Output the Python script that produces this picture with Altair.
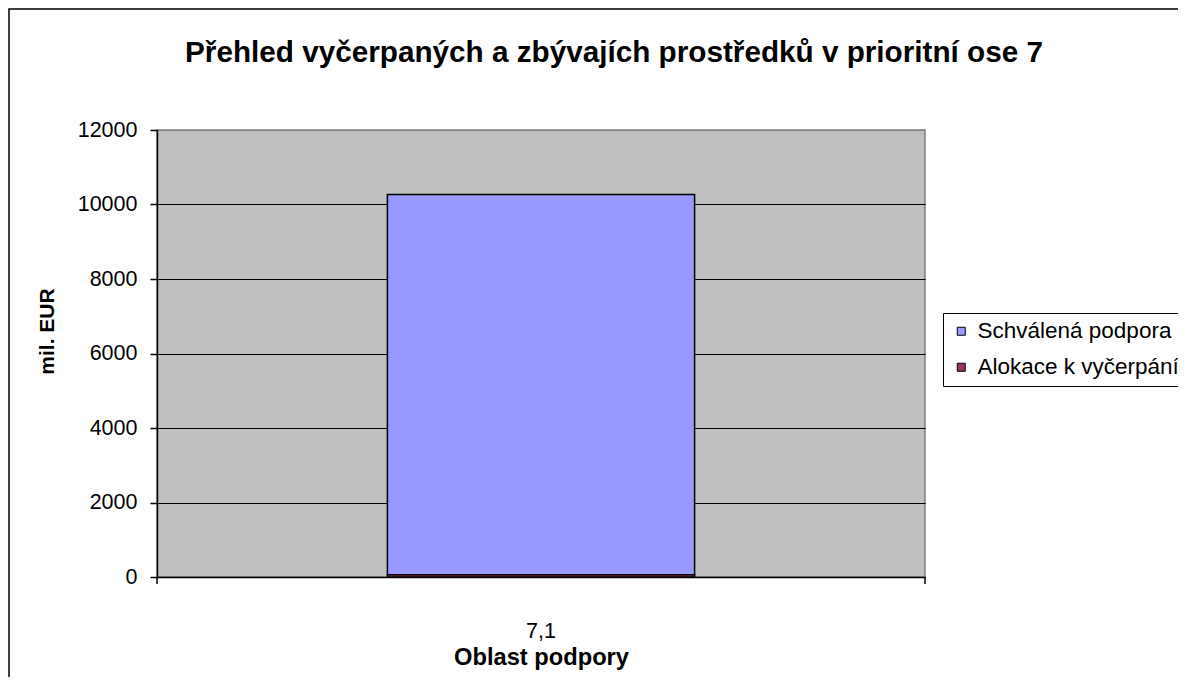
import altair as alt
import pandas as pd

oblast = ["7,1"]
series = ["Schválená podpora", "Alokace k vyčerpání"]
schvalena = [10210]
alokace = [60]
colors = ["#9999ff", "#993366"]
y_ticks = [0, 2000, 4000, 6000, 8000, 10000, 12000]

rows = []
for i, o in enumerate(oblast):
    rows.append({"oblast": o, "serie": series[0], "hodnota": schvalena[i], "poradi": 1})
    rows.append({"oblast": o, "serie": series[1], "hodnota": alokace[i], "poradi": 0})
df = pd.DataFrame(rows)

FONT = "Liberation Sans"
W, H = 768, 447

bars = alt.Chart(df).mark_bar(stroke="black", strokeWidth=1.5).encode(
    x=alt.X("oblast:N",
            scale=alt.Scale(paddingInner=0, paddingOuter=0.75),
            axis=alt.Axis(title="Oblast podpory", labelAngle=0, ticks=False,
                          labelPadding=43, titlePadding=4, titleFontSize=23.7,
                          domainColor="black", domainWidth=1.5)),
    y=alt.Y("hodnota:Q", stack="zero",
            scale=alt.Scale(domain=[0, 12000]),
            axis=alt.Axis(title="mil. EUR", values=y_ticks, format="d",
                          tickSize=7, tickColor="black", tickWidth=1.5,
                          domainColor="black", domainWidth=1.5,
                          labelPadding=13,
                          gridColor={"condition": {"test": "datum.value === 12000", "value": "#808080"}, "value": "black"},
                          gridWidth=1.2,
                          titleX=-104, titleY=201, titleBaseline="alphabetic")),
    color=alt.Color("serie:N",
                    scale=alt.Scale(domain=series, range=colors),
                    legend=alt.Legend(title=None, orient="none", legendX=786, legendY=183,
                                      strokeColor="black", padding=7,
                                      symbolType="square", symbolSize=64,
                                      symbolStrokeColor="black", symbolStrokeWidth=1,
                                      labelFontSize=22.5, labelFont=FONT, labelColor="black",
                                      labelLimit=0, rowPadding=13, labelOffset=5)),
    order=alt.Order("poradi:Q"),
)

xticks = alt.Chart(pd.DataFrame({"p": [0, W]})).mark_rule(color="black", strokeWidth=1.5).encode(
    x=alt.X("p:Q", scale=alt.Scale(domain=[0, W], range=[0, W]), axis=None),
    y=alt.value(H), y2=alt.value(H + 7),
)

border = alt.Chart(pd.DataFrame({"a": [0]})).mark_rect(
    fill=None, stroke="black", strokeWidth=1.5, clip=False
).encode(
    x=alt.value(-148), x2=alt.value(W + 300),
    y=alt.value(-121), y2=alt.value(H + 200),
)

chart = alt.layer(bars, xticks, border).resolve_scale(x="independent").properties(
    width=W, height=H,
    autosize=alt.AutoSizeParams(type="none"),
    padding={"left": 149, "top": 122, "right": 253, "bottom": 100},
    title=alt.TitleParams(
        "Přehled vyčerpaných a zbývajích prostředků v prioritní ose 7",
        fontSize=29.7, font=FONT, fontWeight="bold", color="black",
        anchor="middle", dx=73, offset=0, dy=60),
).configure_view(
    fill="#c0c0c0", stroke="#808080", strokeWidth=1.5
).configure_axis(
    labelFont=FONT, labelFontSize=21.5, labelColor="black",
    titleFont=FONT, titleFontSize=21, titleFontWeight="bold", titleColor="black",
    grid=True,
).configure_axisX(grid=False)

chart.save("out.html", embed_options={"renderer": "svg", "actions": False})
